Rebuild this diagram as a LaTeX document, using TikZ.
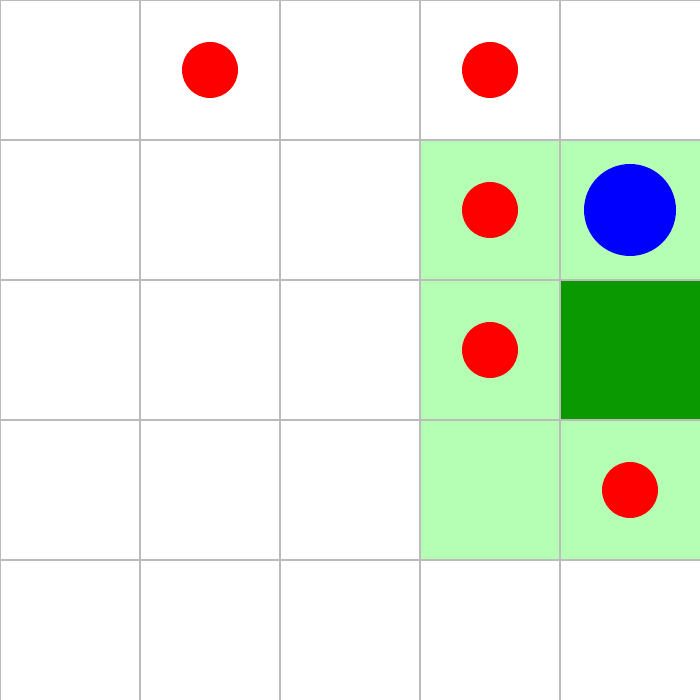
\documentclass[tikz,border=0pt]{standalone}
\definecolor{lightg}{HTML}{B5FFB5}
\definecolor{darkg}{HTML}{0A9A00}
\definecolor{gridc}{HTML}{BBBBBB}
\tikzset{
  lightcell/.style={fill=lightg},
  darkcell/.style={fill=darkg},
  gridline/.style={draw=gridc, line width=0.6pt},
  redcoin/.style={circle, fill=red, minimum size=0.4cm, inner sep=0pt},
  bluecoin/.style={circle, fill=blue, minimum size=0.657cm, inner sep=0pt}
}
\begin{document}
\begin{tikzpicture}
\useasboundingbox (0,0) rectangle (5,5);
\clip (0,0) rectangle (5,5);
\fill[white] (0,0) rectangle (5,5);
% light green cells
\fill[lightcell] (3,1) rectangle (4,4);
\fill[lightcell] (4,3) rectangle (5,4);
\fill[lightcell] (4,1) rectangle (5,2);
\fill[darkcell] (4,2) rectangle (5,3);
% grid
\foreach \i in {0,...,4} {
  \draw[gridline] (\i,0) -- (\i,5);
  \draw[gridline] (0,5-\i) -- (5,5-\i);
}
% coins
\node[redcoin] (r1) at (1.5,4.5) {};
\node[redcoin] (r2) at (3.5,4.5) {};
\node[redcoin] (r3) at (3.5,3.5) {};
\node[redcoin] (r4) at (3.5,2.5) {};
\node[redcoin] (r5) at (4.5,1.5) {};
\node[bluecoin] (b1) at (4.5,3.5) {};
\end{tikzpicture}
\end{document}
